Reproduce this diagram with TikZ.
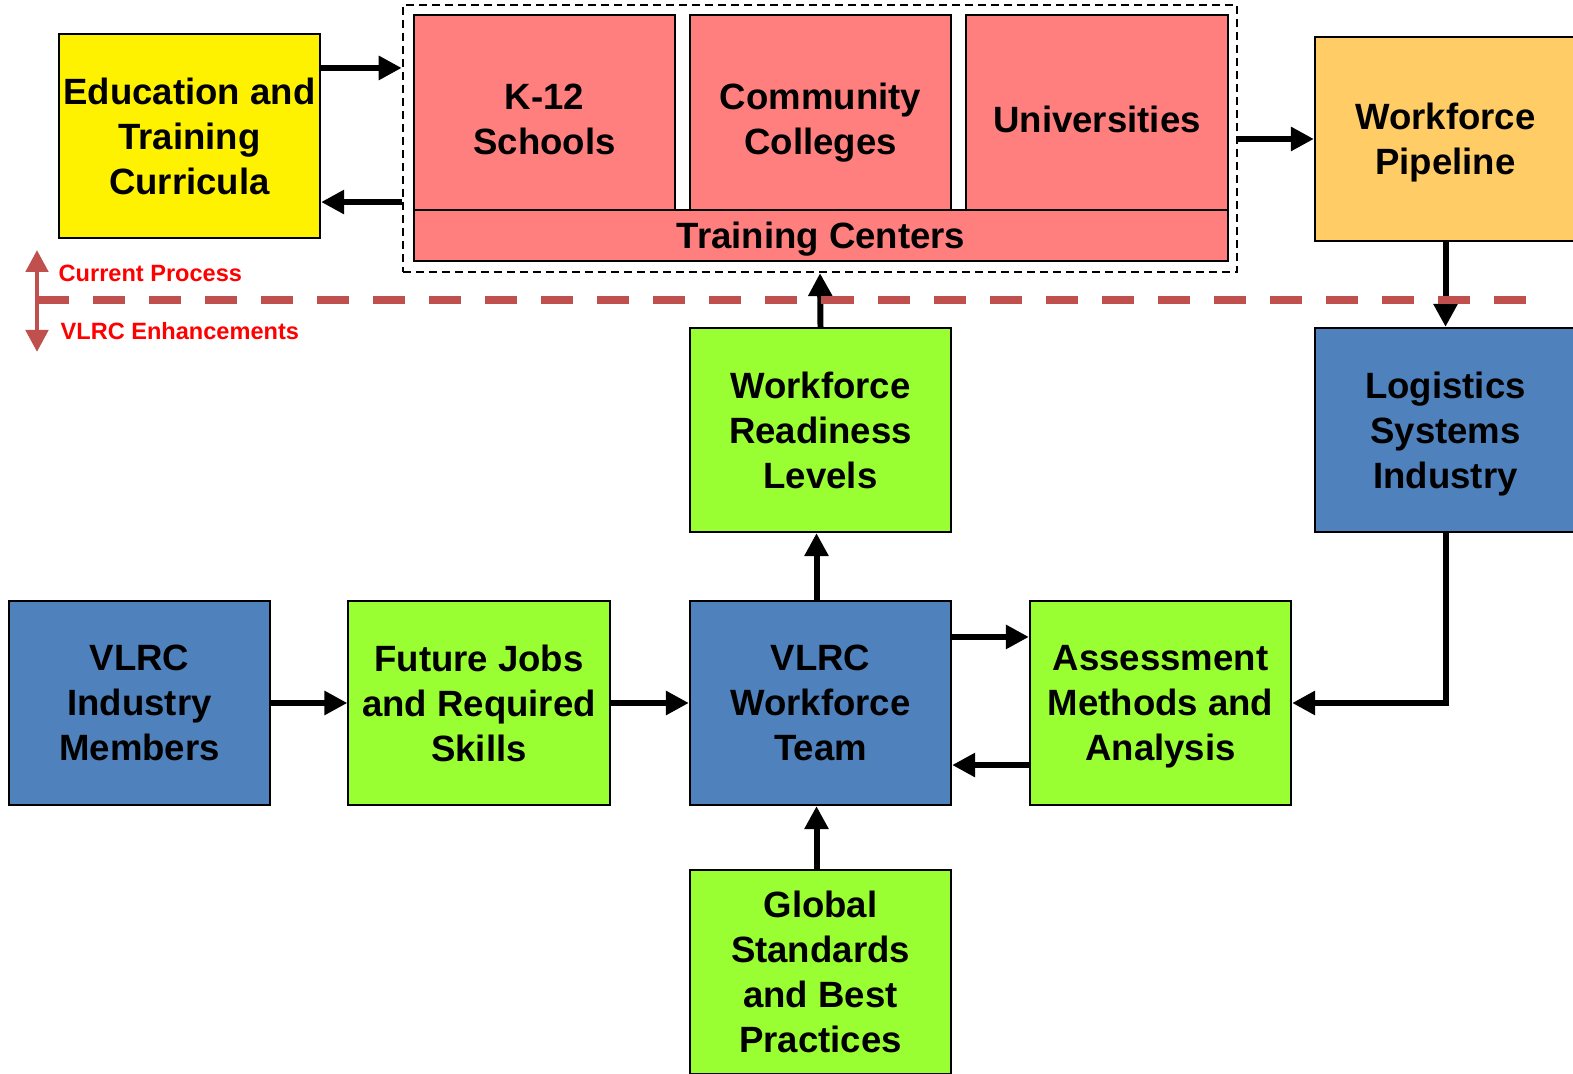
\documentclass[tikz,border=0pt]{standalone}
\usepackage{fontspec}
\setmainfont{Liberation Sans}
\usetikzlibrary{arrows.meta}
\definecolor{rose}{RGB}{255,127,127}
\definecolor{lime}{RGB}{153,255,51}
\definecolor{steel}{RGB}{79,129,189}
\definecolor{sand}{RGB}{255,204,102}
\definecolor{brick}{RGB}{192,80,77}
\begin{document}
\begin{tikzpicture}[x=0.01cm,y=-0.01cm]
\useasboundingbox (0,0) rectangle (1573,1074);
\tikzstyle{box}=[draw,line width=0.6pt,minimum width=2.61cm,minimum height=2.04cm,align=center,inner sep=1pt,font=\fontsize{10.4}{12.8}\selectfont\bfseries,text depth=-2.6pt]
\tikzstyle{arr}=[line width=1.7pt,-{Triangle[length=0.23cm,width=0.23cm]}]
\tikzstyle{tag}=[red,anchor=west,inner sep=0pt,font=\fontsize{6.7}{8}\selectfont\bfseries]
% current process
\node[draw,line width=0.6pt,dash pattern=on 0.08cm off 0.05cm,minimum width=8.34cm,minimum height=2.67cm] (inst) at (820,138.5) {};
\node[box,fill=yellow] (edu) at (189.5,136) {Education and\\Training\\Curricula};
\node[box,fill=rose,minimum height=2.08cm] (k12) at (544.5,119) {K-12\\Schools};
\node[box,fill=rose,minimum height=2.08cm] (cc) at (820.5,119) {Community\\Colleges};
\node[box,fill=rose,minimum height=2.08cm,text depth=0pt] (univ) at (1097,119) {Universities};
\node[box,fill=rose,minimum width=8.14cm,minimum height=0.51cm,text depth=-1.2pt] (train) at (821,235.5) {Training Centers};
\node[box,fill=sand] (pipe) at (1445.5,139) {Workforce\\Pipeline};
% VLRC enhancements
\node[box,fill=lime] (wrl) at (820.5,430) {Workforce\\Readiness\\Levels};
\node[box,fill=steel] (logi) at (1445.5,430) {Logistics\\Systems\\Industry};
\node[box,fill=steel] (ind) at (139.5,703) {VLRC\\Industry\\Members};
\node[box,fill=lime] (fut) at (479,703) {Future Jobs\\and Required\\Skills};
\node[box,fill=steel] (team) at (820.5,703) {VLRC\\Workforce\\Team};
\node[box,fill=lime] (assess) at (1160.5,703) {Assessment\\Methods and\\Analysis};
\node[box,fill=lime] (glob) at (820.5,972) {Global\\Standards\\and Best\\Practices};
\draw[arr] ([yshift=0.68cm]edu.east) -- ([yshift=0.68cm]edu.east -| inst.west);
\draw[arr] ([yshift=-0.66cm]edu.east -| inst.west) -- ([yshift=-0.66cm]edu.east);
\draw[arr] (inst.east |- pipe.west) -- (pipe.west);
\draw[arr] (pipe.south) -- (logi.north);
\draw[arr] (logi.south) |- (assess.east);
\draw[arr] (ind.east) -- (fut.west);
\draw[arr] (fut.east) -- (team.west);
\draw[arr] ([xshift=-0.04cm]team.north) -- ([xshift=-0.04cm]wrl.south);
\draw[arr] (wrl.north) -- (inst.south);
\draw[arr] ([yshift=0.66cm]team.east) -- ([yshift=0.66cm]assess.west);
\draw[arr] ([yshift=-0.62cm]assess.west) -- ([yshift=-0.62cm]team.east);
\draw[arr] ([xshift=-0.04cm]glob.north) -- ([xshift=-0.04cm]team.south);
% divider
\coordinate (up) at (37,250);
\coordinate (down) at (37,352);
\coordinate (lft) at (37,300);
\coordinate (rgt) at (1545,300);
\draw[brick,line width=1.4pt,{Triangle[length=0.22cm,width=0.22cm]}-{Triangle[length=0.22cm,width=0.22cm]}] (up) -- (down);
\draw[brick,line width=2.3pt,dash pattern=on 0.32cm off 0.24cm] (lft) -- (rgt);
\node[tag] (cur) at (58,273) {Current Process};
\node[tag] (enh) at (60,331) {VLRC Enhancements};
\end{tikzpicture}
\end{document}
